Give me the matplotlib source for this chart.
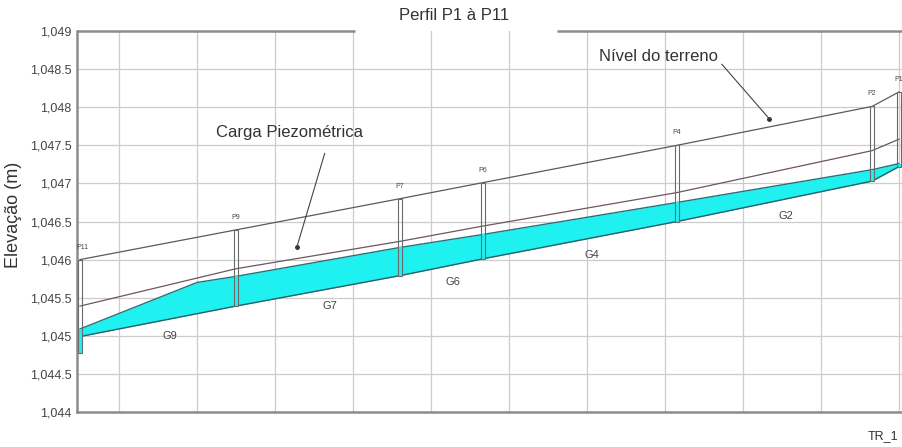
import numpy as np
import matplotlib
matplotlib.use("Agg")
import matplotlib.pyplot as plt
from matplotlib.patches import Rectangle

plt.rcParams['font.family'] = ['Liberation Sans', 'DejaVu Sans']

# ---------------- data ----------------
stations = ["P11", "P9", "P7", "P6", "P4", "P2", "P1"]
station_x = [0.0, 40.0, 82.1, 103.3, 153.1, 203.1, 210.0]          # chainage (m)
terrain = [1046.00, 1046.39, 1046.80, 1047.01, 1047.50, 1048.01, 1048.20]
piezo = [1045.39, 1045.88, 1046.24, 1046.44, 1046.88, 1047.43, 1047.58]
invert = [1044.99, 1045.39, 1045.79, 1046.01, 1046.50, 1047.03, 1047.22]
tube_bottom = [1044.78, 1045.39, 1045.79, 1046.01, 1046.50, 1047.03, 1047.22]

water_x = [0.0, 30.0, 40.0, 82.1, 103.3, 153.1, 203.1, 210.0]
water_level = [1045.09, 1045.70, 1045.78, 1046.16, 1046.33, 1046.75, 1047.18, 1047.26]

segments = ["G9", "G7", "G6", "G4", "G2"]

y_ticks = [1044.0, 1044.5, 1045.0, 1045.5, 1046.0, 1046.5, 1047.0, 1047.5, 1048.0, 1048.5, 1049.0]
y_tick_labels = ["1,044", "1,044.5", "1,045", "1,045.5", "1,046", "1,046.5",
                 "1,047", "1,047.5", "1,048", "1,048.5", "1,049"]
x_grid = [10, 30, 50, 70, 90, 110, 130, 150, 170, 190, 210]

title = "Perfil P1 à P11"
ylabel = "Elevação (m)"

# ---------------- figure ----------------
W, H = 902, 447
fig = plt.figure(figsize=(W / 100, H / 100), dpi=100)
fig.patch.set_facecolor("white")
ax = fig.add_axes([77 / W, (H - 412) / H, (906 - 77) / W, 381 / H])
ax.set_xlim(-0.77, 211.8)
ax.set_ylim(1044.0, 1049.0)

# grid
for gx in x_grid:
    ax.axvline(gx, color="#cccccc", lw=0.9, zorder=0)
for gy in y_ticks[1:-1]:
    ax.axhline(gy, color="#cccccc", lw=0.9, zorder=0)

# water (cyan) area
w_inv = np.interp(water_x, station_x, invert)
ax.fill_between(water_x, w_inv, water_level, color="#1ff0f0", lw=0, zorder=2)
ax.plot(water_x, water_level, color="#2d6f78", lw=1.0, zorder=3)
ax.plot(station_x, invert, color="#2d5f68", lw=1.0, zorder=3)

# lines
ax.plot(station_x, terrain, color="#5a5a5a", lw=0.9, zorder=3)
ax.plot(station_x, piezo, color="#6e5560", lw=0.9, zorder=3)

# piezometer tubes
tw = 1.05
wl_st = np.interp(station_x, water_x, water_level)
for sx, top, bot, wl, name in zip(station_x, terrain, tube_bottom, wl_st, stations):
    if wl > bot:
        ax.add_patch(Rectangle((sx - tw / 2, bot), tw, wl - bot,
                               facecolor="#1ff0f0", edgecolor="none", zorder=4))
    ax.add_patch(Rectangle((sx - tw / 2, bot), tw, top - bot,
                           facecolor="none", edgecolor="#6a6a6a", lw=0.8, zorder=5))
    ax.annotate(name, xy=(sx, top), xytext=(2 if name == "P11" else 0, 9),
                textcoords="offset pixels", ha="center", va="bottom",
                fontsize=5, color="#444444", zorder=6)

# segment labels
for i, name in enumerate(segments):
    mx = (station_x[i] + station_x[i + 1]) / 2 + 3
    my = np.interp(mx, station_x, invert)
    ax.annotate(name, xy=(mx, my), xytext=(0, -17), textcoords="offset pixels",
                ha="center", va="center", fontsize=8, color="#444444", zorder=6)

# callouts
t_x = 176.7
t_y = np.interp(t_x, station_x, terrain) + 0.11
ax.plot([t_x], [t_y], "o", ms=2.5, color="#333333", zorder=7)
ax.annotate("Nível do terreno", xy=(t_x, t_y), xytext=(163.6, 1048.67),
            ha="right", va="center", fontsize=12, color="#333333",
            arrowprops=dict(arrowstyle="-", color="#444444", lw=0.8,
                            relpos=(1.0, 0.25), shrinkA=1, shrinkB=0), zorder=7)

p_x = 55.6
p_y = np.interp(p_x, station_x, piezo) + 0.15
ax.plot([p_x], [p_y], "o", ms=2.5, color="#333333", zorder=7)
ax.annotate("Carga Piezométrica", xy=(p_x, p_y), xytext=(53.6, 1047.67),
            ha="center", va="center", fontsize=12, color="#333333",
            arrowprops=dict(arrowstyle="-", color="#444444", lw=0.8,
                            relpos=(0.77, 0.0), shrinkA=8, shrinkB=0), zorder=7)

# axes styling
ax.set_xticks([])
ax.set_yticks(y_ticks)
ax.set_yticklabels(y_tick_labels, fontsize=9, color="#444444")
ax.tick_params(axis="y", length=0, pad=4)
for s in ["top", "right"]:
    ax.spines[s].set_visible(False)
for s in ["left", "bottom"]:
    ax.spines[s].set_color("#8c8c8c")
    ax.spines[s].set_linewidth(1.8)

# top border with gap for title
ax.plot([0, (355 - 77) / 829], [1, 1], transform=ax.transAxes, color="#8c8c8c",
        lw=1.8, clip_on=False, solid_capstyle="butt")
ax.plot([(557 - 77) / 829, 1], [1, 1], transform=ax.transAxes, color="#8c8c8c",
        lw=1.8, clip_on=False, solid_capstyle="butt")

fig.text(454 / W, 1 - 15 / H, title, ha="center", va="center", fontsize=12, color="#333333")
fig.text(14 / W, 1 - 215 / H, ylabel, ha="center", va="center", rotation=90,
         fontsize=13, color="#333333")
fig.text(883 / W, 1 - 436 / H, "TR_1", ha="center", va="center", fontsize=9, color="#333333")

fig.savefig("out.png", dpi=100, facecolor="white")
